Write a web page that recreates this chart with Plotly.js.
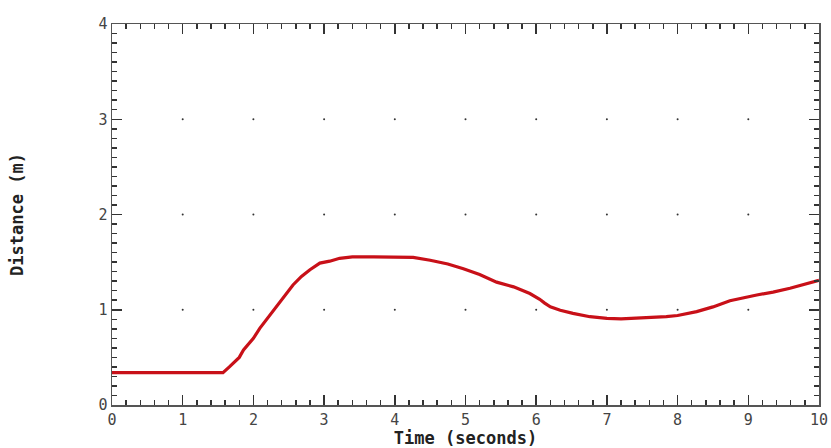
<!DOCTYPE html>
<html>
<head>
<meta charset="utf-8">
<script src="https://cdn.plot.ly/plotly-3.0.1.min.js"></script>
<style>html,body{margin:0;padding:0;background:#fff;}#chart{width:831px;height:448px;}</style>
</head>
<body>
<div id="chart"></div>
<script>
// Measured distance vs time
const timeSec = [0, 0.5, 1.0, 1.57, 1.66, 1.74, 1.80, 1.86, 2.0, 2.09, 2.2, 2.33, 2.45, 2.56, 2.68, 2.80, 2.94, 3.08, 3.22, 3.4, 3.7, 4.0, 4.26, 4.50, 4.75, 4.97, 5.2, 5.44, 5.68, 5.91, 6.05, 6.12, 6.20, 6.34, 6.52, 6.76, 7.0, 7.2, 7.37, 7.6, 7.84, 8.0, 8.18, 8.27, 8.5, 8.74, 9.12, 9.35, 9.59, 9.8, 10.0];
const distM   = [0.34, 0.34, 0.34, 0.34, 0.40, 0.455, 0.50, 0.577, 0.70, 0.805, 0.91, 1.03, 1.15, 1.26, 1.35, 1.42, 1.49, 1.51, 1.54, 1.555, 1.555, 1.555, 1.55, 1.52, 1.48, 1.43, 1.37, 1.29, 1.24, 1.17, 1.11, 1.07, 1.03, 0.995, 0.962, 0.927, 0.91, 0.905, 0.91, 0.915, 0.927, 0.94, 0.963, 0.98, 1.03, 1.095, 1.155, 1.185, 1.225, 1.27, 1.31];

// Dotted grid intersections
const gridXVals = [1, 2, 3, 4, 5, 6, 7, 8, 9];
const gridYVals = [1, 2, 3];
const gx = [], gy = [];
gridYVals.forEach(y => gridXVals.forEach(x => { gx.push(x); gy.push(y); }));

const xTicks = [0,1,2,3,4,5,6,7,8,9,10];
const yTicks = [0,1,2,3,4];

const tickFont = {family: 'DejaVu Sans Mono, monospace', size: 15, color: '#444'};
const titleFont = {family: 'DejaVu Sans Mono, monospace', size: 17, color: '#222', weight: 'bold'};

const traces = [
  {x: gx, y: gy, mode: 'markers', type: 'scatter', marker: {size: 2, color: '#333'}, hoverinfo: 'skip'},
  {x: timeSec, y: distM, mode: 'lines', type: 'scatter', line: {color: '#c81018', width: 3.2}}
];

const layout = {
  width: 831, height: 448,
  margin: {l: 112, r: 12, t: 24, b: 43},
  paper_bgcolor: '#fff', plot_bgcolor: '#fff',
  showlegend: false,
  xaxis: {
    range: [0, 10], tickvals: xTicks, ticktext: xTicks.map(String),
    showgrid: false, zeroline: false,
    showline: true, linecolor: '#555', linewidth: 1.5, mirror: 'ticks',
    ticks: 'inside', ticklen: 10, tickwidth: 1.5, tickcolor: '#333',
    minor: {dtick: 0.2, ticks: 'inside', ticklen: 5, tickwidth: 1.5, tickcolor: '#333', showgrid: false},
    tickfont: tickFont,
    title: {text: 'Time (seconds)', font: titleFont, standoff: 2}
  },
  yaxis: {
    range: [0, 4], tickvals: yTicks, ticktext: yTicks.map(String),
    showgrid: false, zeroline: false,
    showline: true, linecolor: '#555', linewidth: 1.5, mirror: 'ticks',
    ticks: 'inside', ticklen: 10, tickwidth: 1.5, tickcolor: '#333',
    minor: {dtick: 0.1, ticks: 'inside', ticklen: 5, tickwidth: 1.5, tickcolor: '#333', showgrid: false},
    tickfont: tickFont,
    title: {text: 'Distance (m)', font: titleFont, standoff: 70}
  }
};

Plotly.newPlot('chart', traces, layout, {displayModeBar: false, staticPlot: true});
</script>
</body>
</html>
